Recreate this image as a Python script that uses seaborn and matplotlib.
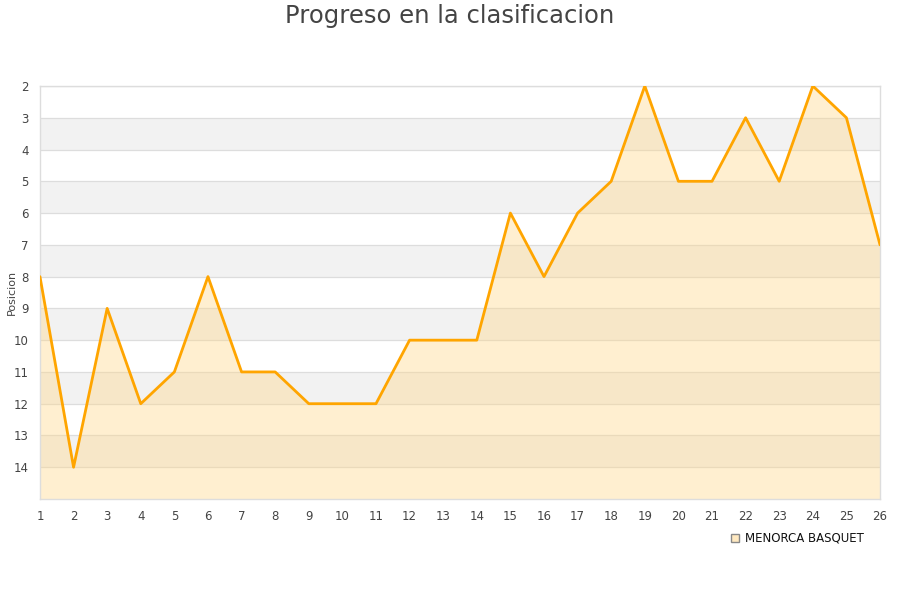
import numpy as np
import pandas as pd
import seaborn as sns
import matplotlib.pyplot as plt
from matplotlib.lines import Line2D

sns.set_theme(style='white')
plt.rcParams['font.family'] = ['DejaVu Sans']

# Datos
jornadas = list(range(1, 27))
posiciones = [8, 14, 9, 12, 11, 8, 11, 11, 12, 12, 12, 10, 10, 10,
              6, 8, 6, 5, 2, 5, 5, 3, 5, 2, 3, 7]
equipo = 'MENORCA BASQUET'
y_ticks = list(range(2, 15))

df = pd.DataFrame({'jornada': jornadas, 'posicion': posiciones})

fig = plt.figure(figsize=(9, 6), dpi=100)
ax = fig.add_axes([0.0444, 0.1683, 0.9334, 0.6884])

# Bandas alternas
for lo in range(3, 15, 2):
    ax.axhspan(lo, lo + 1, color='#F2F2F2', zorder=0, lw=0)
for t in y_ticks:
    ax.axhline(t, color='#DDDDDD', lw=0.9, zorder=1)

ax.fill_between(df['jornada'], df['posicion'], 15, color='#FFD78A', alpha=0.4, zorder=2, lw=0)
sns.lineplot(data=df, x='jornada', y='posicion', ax=ax, color='#FFA500', lw=2, zorder=3)

ax.set_xlim(1, 26)
ax.set_ylim(15, 2)
ax.set_xticks(jornadas)
ax.set_yticks(y_ticks)
ax.tick_params(axis='both', length=0, labelsize=8.5, colors='#444444', pad=8)
ax.set_xlabel('')
ax.set_ylabel('Posicion', fontsize=8, color='#444444')
ax.yaxis.set_label_coords(-0.028, 0.5)
for s in ax.spines.values():
    s.set_color('#DDDDDD')
    s.set_linewidth(1)

fig.text(0.5, 0.973, 'Progreso en la clasificacion', fontsize=17.5, color='#444444',
         ha='center', va='center')

handle = Line2D([], [], marker='s', linestyle='', markerfacecolor='#FFE9C0',
                markeredgecolor='#888888', markersize=6)
leg = fig.legend([handle], [equipo], loc='center', bbox_to_anchor=(0.885, 0.103),
                 frameon=False, fontsize=8.5, handletextpad=0.3, handlelength=1)
for txt in leg.get_texts():
    txt.set_color('#111111')

fig.savefig('out.png', dpi=100)
